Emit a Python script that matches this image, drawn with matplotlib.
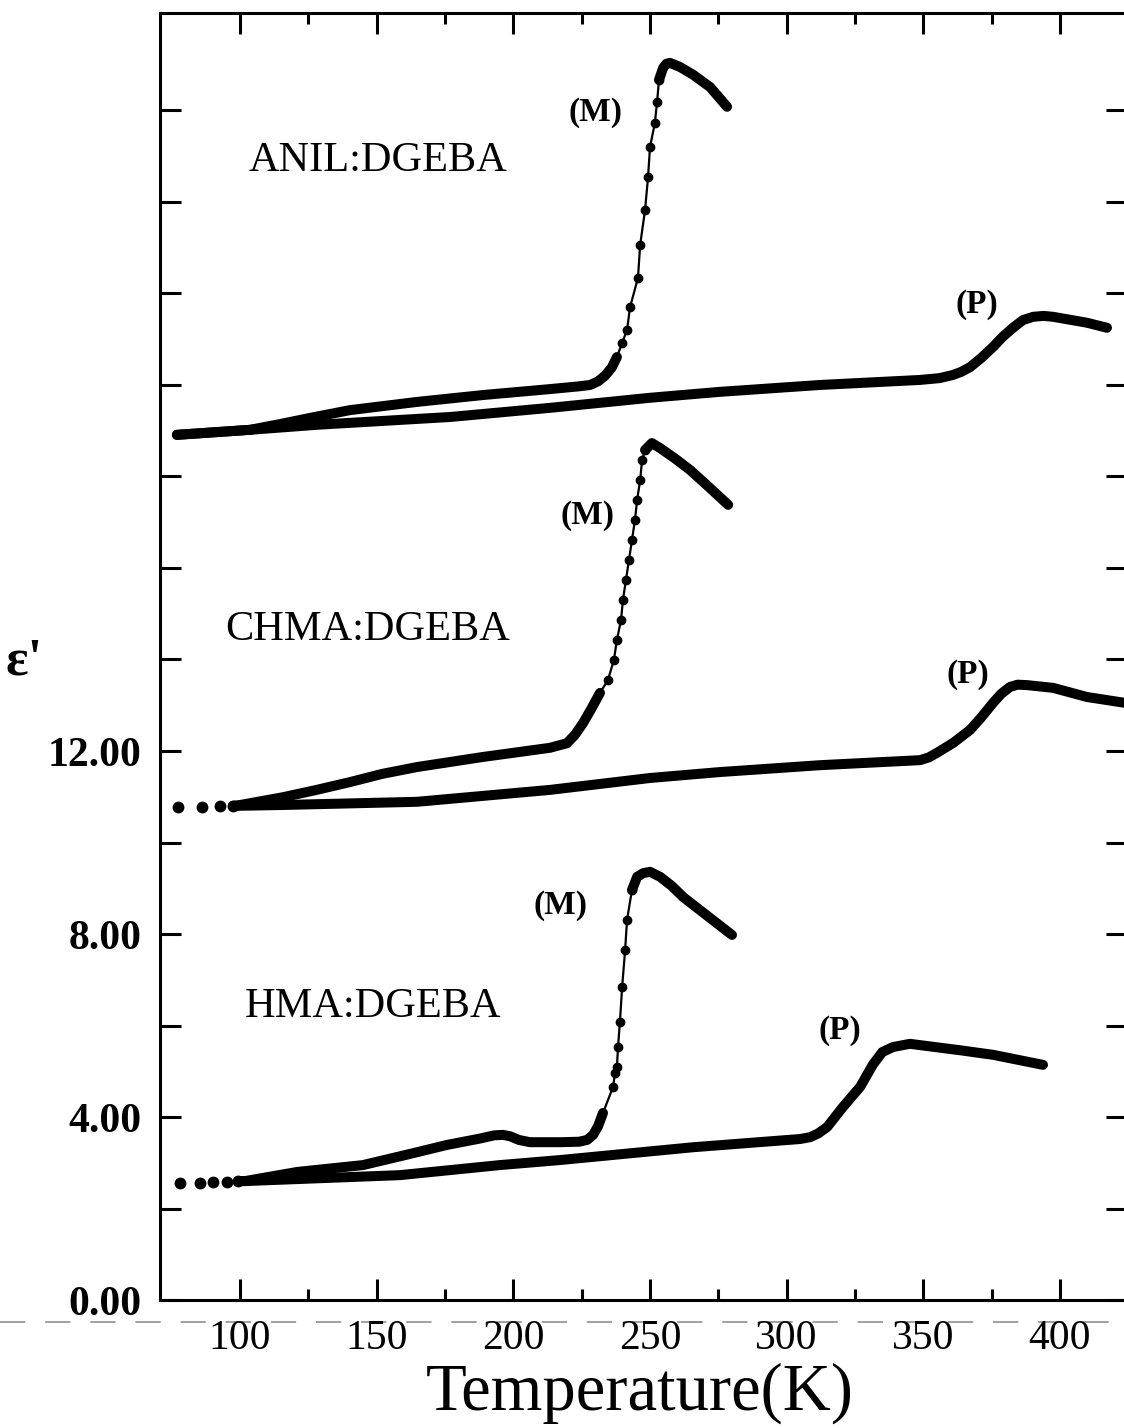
import matplotlib
matplotlib.use('Agg')
import matplotlib.pyplot as plt
from matplotlib.ticker import FixedLocator, FuncFormatter
from matplotlib.lines import Line2D

plt.rcParams['font.family'] = ['Liberation Serif', 'DejaVu Serif']

# ---------------- data (T in K, eps') ----------------
# ANIL:DGEBA, (M) run: flat part, steep rise (single points), peak
anil_m_base_T = [76.9, 103.7, 115.0, 125.6, 140.2, 164.8, 188.9, 213.4, 224.0, 228.1,
                 231.0, 233.5, 236.0, 237.9]
anil_m_base_e = [18.91, 19.02, 19.15, 19.28, 19.45, 19.63, 19.78, 19.91, 19.97, 20.00,
                 20.08, 20.20, 20.38, 20.61]
anil_m_rise_T = [239.8, 241.6, 242.7, 245.6, 246.4, 248.2, 249.3, 250.0, 251.8, 252.6, 253.3]
anil_m_rise_e = [20.92, 21.20, 21.70, 22.34, 23.06, 23.83, 24.55, 25.20, 25.73, 26.19, 26.67]
anil_m_top_T = [253.3, 254.8, 256.0, 257.3, 261.0, 265.8, 272.0, 278.2]
anil_m_top_e = [26.67, 26.93, 27.02, 27.04, 26.95, 26.78, 26.51, 26.08]
# ANIL:DGEBA, (P) run
anil_p_T = [76.9, 103.7, 128.2, 176.8, 213.4, 250.0, 275.6, 312.2, 348.8, 356.0,
            360.9, 364.0, 367.1, 371.0, 375.5, 379.0, 382.8, 386.5, 390.2, 394.0,
            397.5, 409.9, 417.2]
anil_p_e = [18.91, 19.02, 19.13, 19.30, 19.50, 19.72, 19.85, 20.00, 20.11, 20.15,
            20.22, 20.29, 20.39, 20.58, 20.83, 21.05, 21.25, 21.42, 21.49, 21.51,
            21.49, 21.36, 21.25]

# CHMA:DGEBA
chma_lead_T = [77.3, 86.1, 92.7, 97.4]
chma_lead_e = [10.78, 10.78, 10.80, 10.80]
chma_m_base_T = [97.4, 100.0, 115.7, 128.0, 140.2, 152.0, 164.8, 188.9, 213.4, 219.6,
                 222.5, 225.5, 228.5, 231.7]
chma_m_base_e = [10.80, 10.82, 10.99, 11.15, 11.32, 11.50, 11.65, 11.87, 12.07, 12.17,
                 12.35, 12.61, 12.92, 13.27]
chma_m_rise_T = [234.6, 236.8, 237.9, 239.4, 240.1, 241.2, 242.3, 243.4, 244.5, 245.3,
                 246.4, 247.1, 248.2]
chma_m_rise_e = [13.55, 13.99, 14.43, 14.86, 15.30, 15.74, 16.17, 16.61, 17.05, 17.49,
                 17.92, 18.36, 18.58]
chma_m_top_T = [248.2, 250.7, 253.7, 259.0, 264.7, 271.0, 278.6]
chma_m_top_e = [18.58, 18.73, 18.62, 18.40, 18.14, 17.80, 17.38]
chma_p_T = [97.4, 115.7, 164.8, 213.4, 250.0, 275.6, 312.2, 348.8, 352.0, 355.0,
            361.0, 367.1, 371.0, 375.5, 378.5, 381.7, 384.5, 388.0, 397.5, 409.9, 424.0]
chma_p_e = [10.80, 10.82, 10.89, 11.15, 11.41, 11.54, 11.69, 11.80, 11.86, 11.96,
            12.18, 12.46, 12.72, 13.05, 13.25, 13.40, 13.45, 13.44, 13.38, 13.18, 13.05]

# HMA:DGEBA
hma_lead_T = [78.0, 85.4, 90.1, 95.2, 99.3]
hma_lead_e = [2.56, 2.56, 2.58, 2.58, 2.60]
hma_m_base_T = [99.3, 101.8, 120.9, 145.0, 163.3, 175.7, 187.8, 193.0, 196.2, 198.8,
                202.0, 206.1, 217.1, 224.0, 227.0, 229.2, 231.0, 232.8]
hma_m_base_e = [2.60, 2.60, 2.80, 2.95, 3.21, 3.39, 3.53, 3.60, 3.61, 3.58,
                3.50, 3.45, 3.45, 3.46, 3.50, 3.61, 3.80, 4.09]
hma_m_rise_T = [236.5, 237.2, 237.9, 238.3, 239.0, 239.8, 240.9, 241.6, 243.4]
hma_m_rise_e = [4.66, 4.96, 5.09, 5.53, 6.08, 6.84, 7.65, 8.31, 8.96]
hma_m_top_T = [243.4, 245.3, 247.5, 250.0, 253.7, 258.0, 262.1, 272.0, 280.0]
hma_m_top_e = [8.96, 9.25, 9.33, 9.36, 9.25, 9.05, 8.81, 8.35, 7.98]
hma_p_T = [99.3, 101.8, 158.5, 195.1, 217.1, 265.8, 305.0, 308.6, 311.5, 314.8,
           320.6, 326.9, 331.6, 335.0, 338.9, 345.1, 363.4, 375.5, 393.8]
hma_p_e = [2.60, 2.60, 2.73, 2.95, 3.06, 3.34, 3.52, 3.56, 3.64, 3.78,
           4.22, 4.66, 5.15, 5.42, 5.53, 5.60, 5.46, 5.36, 5.14]

sample_names = ['ANIL:DGEBA', 'CHMA:DGEBA', 'HMA:DGEBA']
x_major = [100, 150, 200, 250, 300, 350, 400]
x_minor = [125, 175, 225, 275, 325, 375]
y_ticks = [0, 2, 4, 6, 8, 10, 12, 14, 16, 18, 20, 22, 24, 26]
y_labelled = [0, 4, 8, 12]

# ---------------- figure ----------------
fig = plt.figure(figsize=(11.24, 14.28), dpi=100)
ax = fig.add_axes([0.1423, 0.0896, 0.8603, 0.9013])

THICK = 7.2


def draw_m(base_T, base_e, rise_T, rise_e, top_T, top_e):
    ax.plot(base_T, base_e, color='black', lw=THICK, solid_capstyle='round',
            solid_joinstyle='round')
    # steep rise: thin line through the single measured points
    ax.plot([base_T[-1]] + rise_T + [top_T[0]], [base_e[-1]] + rise_e + [top_e[0]],
            color='black', lw=1.6)
    ax.plot(rise_T, rise_e, 'o', color='black', ms=6)
    ax.plot(top_T, top_e, color='black', lw=THICK, solid_capstyle='round',
            solid_joinstyle='round')


def draw_p(T, e):
    ax.plot(T, e, color='black', lw=THICK, solid_capstyle='round', solid_joinstyle='round')


draw_m(anil_m_base_T, anil_m_base_e, anil_m_rise_T, anil_m_rise_e, anil_m_top_T, anil_m_top_e)
draw_p(anil_p_T, anil_p_e)

ax.plot(chma_lead_T, chma_lead_e, 'o', color='black', ms=7.5)
draw_m(chma_m_base_T, chma_m_base_e, chma_m_rise_T, chma_m_rise_e, chma_m_top_T, chma_m_top_e)
draw_p(chma_p_T, chma_p_e)

ax.plot(hma_lead_T, hma_lead_e, 'o', color='black', ms=7.5)
draw_m(hma_m_base_T, hma_m_base_e, hma_m_rise_T, hma_m_rise_e, hma_m_top_T, hma_m_top_e)
draw_p(hma_p_T, hma_p_e)

# sample names and (M)/(P) marks
ax.text(103.0, 24.9, sample_names[0], fontsize=30.5, va='center', ha='left')
ax.text(94.5, 14.64, sample_names[1], fontsize=30.5, va='center', ha='left')
ax.text(101.8, 6.4, sample_names[2], fontsize=30.5, va='center', ha='left')

for xm, ym in [(230.2, 25.95), (227.0, 17.14), (217.1, 8.63)]:
    ax.text(xm, ym, '(M)', fontsize=24, fontweight='bold', ha='center', va='center')
for xp, yp in [(369.7, 21.75), (366.4, 13.68), (319.5, 5.90)]:
    ax.text(xp, yp, '(P)', fontsize=24, fontweight='bold', ha='center', va='center')

# axes, ticks
ax.set_xlim(70.7, 424.5)
ax.set_ylim(0, 28.13)
ax.xaxis.set_major_locator(FixedLocator(x_major))
ax.xaxis.set_minor_locator(FixedLocator(x_minor))
ax.yaxis.set_major_locator(FixedLocator(y_ticks))
ax.yaxis.set_major_formatter(FuncFormatter(
    lambda v, p: '%.2f' % v if int(round(v)) in y_labelled else ''))

ax.tick_params(which='both', direction='in', top=True, right=True, width=2.2)
ax.tick_params(which='major', length=15)
ax.tick_params(which='minor', length=8)
ax.tick_params(axis='y', labelsize=30, pad=13)
ax.tick_params(axis='x', labelsize=30, pad=14)
for lab in ax.get_yticklabels():
    lab.set_fontweight('bold')
for sp in ax.spines.values():
    sp.set_linewidth(2.2)

ax.set_xlabel('Temperature(K)', fontsize=48)
ax.xaxis.set_label_coords(0.496, -0.072)
ax.xaxis.label.set_va('center')
ax.set_ylabel("ε'", fontsize=38, fontweight='bold', rotation=0)
ax.yaxis.set_label_coords(-0.1406, 0.4965)
ax.yaxis.label.set_va('center')
ax.yaxis.label.set_ha('center')

# faint dashed line running across the page below the axis (as in the scan)
fig.add_artist(Line2D([0, 1], [0.0742, 0.0742], transform=fig.transFigure,
                      color='#999999', lw=1.3, ls=(0, (14, 11)), zorder=0))

fig.savefig('out.png', dpi=100)
